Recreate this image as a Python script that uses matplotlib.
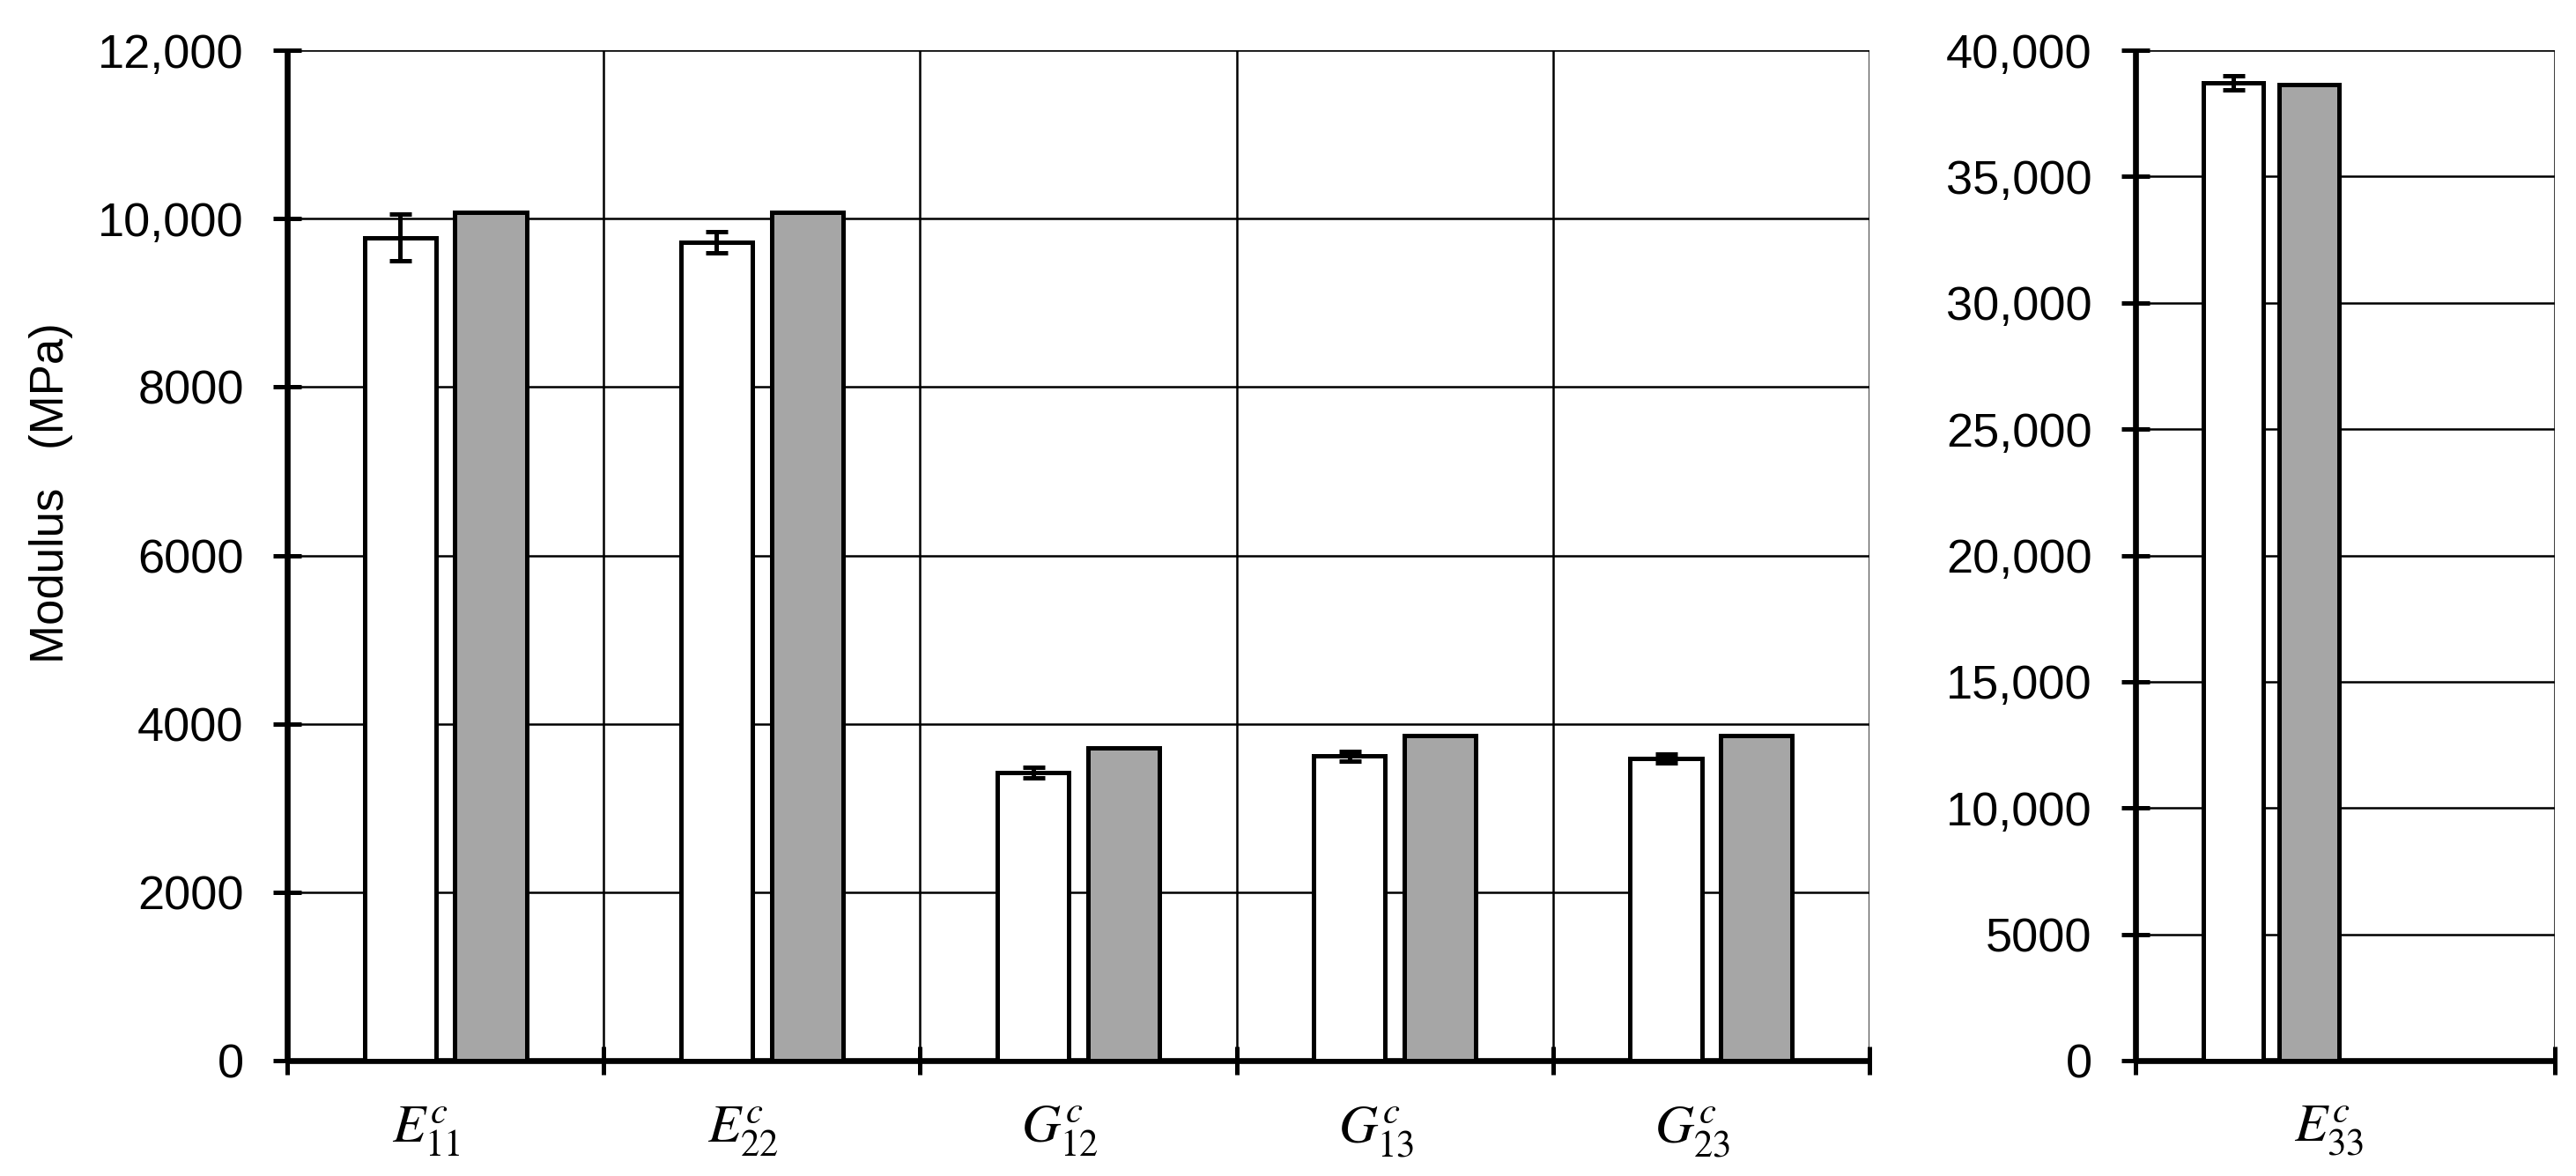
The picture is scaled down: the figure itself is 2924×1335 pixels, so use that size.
import matplotlib
matplotlib.use('Agg')
import matplotlib.pyplot as plt
import numpy as np

plt.rcParams['font.family'] = ['Liberation Sans', 'DejaVu Sans']
plt.rcParams['mathtext.fontset'] = 'stix'

# ---------------- data ----------------
categories = [r'$E_{11}^{c}$', r'$E_{22}^{c}$', r'$G_{12}^{c}$', r'$G_{13}^{c}$', r'$G_{23}^{c}$']
experimental = [9775, 9720, 3425, 3615, 3590]
experimental_err = [275, 125, 62, 57, 50]
predicted = [10080, 10080, 3715, 3860, 3860]

categories_right = [r'$E_{33}^{c}$']
experimental_right = [38700]
experimental_right_err = [275]
predicted_right = [38625]

left_yticks = [0, 2000, 4000, 6000, 8000, 10000, 12000]
left_yticklabels = ['0', '2000', '4000', '6000', '8000', '10,000', '12,000']
right_yticks = [0, 5000, 10000, 15000, 20000, 25000, 30000, 35000, 40000]
right_yticklabels = ['0', '5000', '10,000', '15,000', '20,000', '25,000', '30,000', '35,000', '40,000']

ylabel = 'Modulus   (MPa)'

# ---------------- style ----------------
FS = 39
BAR_W = 0.226
OFF = 0.143
EDGE_LW = 3.6
GRID_LW = 1.8
SPINE_LW = 4.8
TICK_LEN = 23
TICK_W = 3.6
GRAY = '#a6a6a6'

fig = plt.figure(figsize=(29.24, 13.35), dpi=100)
ax1 = fig.add_axes([0.1115, 0.0981, 0.6142, 0.8592])
ax2 = fig.add_axes([0.829, 0.0981, 0.1628, 0.8592])


def style_axes(ax, yticks, yticklabels, xbounds):
    ax.set_axisbelow(True)
    for s in ['top', 'right']:
        ax.spines[s].set_visible(False)
    for s in ['left', 'bottom']:
        ax.spines[s].set_linewidth(SPINE_LW)
        ax.spines[s].set_color('black')
        ax.spines[s].set_capstyle('butt')
    ax.set_yticks(yticks)
    ax.set_yticklabels(yticklabels, fontsize=FS)
    ax.set_ylim(yticks[0], yticks[-1])
    ax.set_xticks(xbounds)
    ax.set_xticklabels([''] * len(xbounds))
    ax.set_xlim(xbounds[0], xbounds[-1])
    ax.tick_params(axis='y', which='major', direction='inout', length=TICK_LEN,
                   width=TICK_W, pad=24, colors='black')
    ax.tick_params(axis='x', which='major', direction='inout', length=TICK_LEN,
                   width=TICK_W, colors='black')
    ax.tick_params(axis='x', which='minor', length=0, pad=36, labelsize=FS + 5)
    ax.grid(True, which='major', axis='both', color='black', linewidth=GRID_LW)


# Left panel
x = np.arange(len(categories))
style_axes(ax1, left_yticks, left_yticklabels, np.arange(-0.5, len(categories) + 0.5, 1.0))
ax1.bar(x - OFF, experimental, width=BAR_W, color='white', edgecolor='black',
        linewidth=EDGE_LW, zorder=3)
ax1.bar(x + OFF, predicted, width=BAR_W, color=GRAY, edgecolor='black',
        linewidth=EDGE_LW, zorder=3)
ax1.errorbar(x - OFF, experimental, yerr=experimental_err, fmt='none', ecolor='black',
             elinewidth=3.6, capsize=9, capthick=3.6, zorder=4)
ax1.set_xticks(x - 0.06, minor=True)
ax1.set_xticklabels(categories, minor=True)

# Right panel
xr = np.arange(len(categories_right))
style_axes(ax2, right_yticks, right_yticklabels, [-0.51, 1.07])
ax2.bar(xr - OFF, experimental_right, width=BAR_W, color='white', edgecolor='black',
        linewidth=EDGE_LW, zorder=3)
ax2.bar(xr + OFF, predicted_right, width=BAR_W, color=GRAY, edgecolor='black',
        linewidth=EDGE_LW, zorder=3)
ax2.errorbar(xr - OFF, experimental_right, yerr=experimental_right_err, fmt='none',
             ecolor='black', elinewidth=3.6, capsize=9, capthick=3.6, zorder=4)
ax2.set_xticks(xr + 0.22, minor=True)
ax2.set_xticklabels(categories_right, minor=True)

fig.text(58 / 2924, 0.5805, ylabel, rotation=90, ha='center', va='center',
         fontsize=38)

fig.savefig('out.png', dpi=100, facecolor='white')
